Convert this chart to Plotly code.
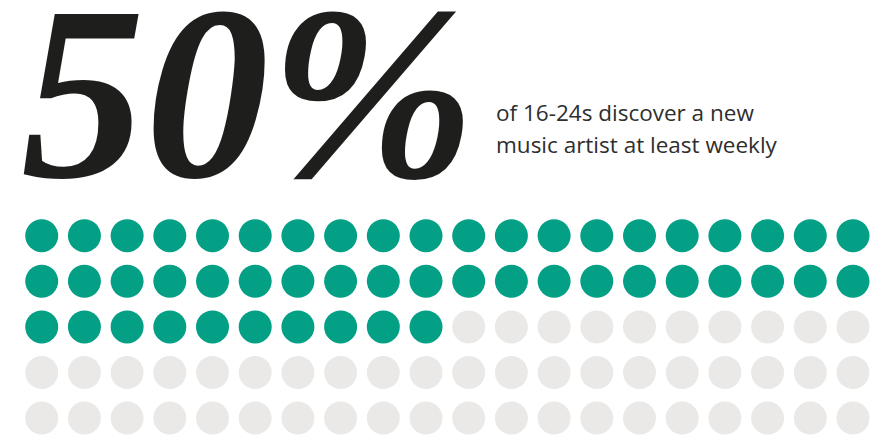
import plotly.graph_objects as go

# Data
categories = ["Discover new artist at least weekly", "Other"]
shares = [50, 50]
colors = ["#03A085", "#EAE9E8"]
n_cols = 20
n_rows = 5
headline = "50%"
subtitle_lines = ["of 16-24s discover a new", "music artist at least weekly"]

W, H = 881, 435

fig = go.Figure()
idx = 0
for cat, share, col in zip(categories, shares, colors):
    xs, ys = [], []
    for _ in range(share):
        r, c = divmod(idx, n_cols)
        xs.append(c)
        ys.append(r)
        idx += 1
    fig.add_trace(go.Scatter(
        x=xs, y=ys, mode="markers", name=cat,
        marker=dict(size=33, color=col, line=dict(width=0)),
        hoverinfo="skip", showlegend=False,
    ))

# headline
fig.add_annotation(
    text=f"<b><i>{headline}</i></b>", xref="paper", yref="paper",
    x=19 / W, y=1 - 233 / H, xanchor="left", yanchor="bottom", showarrow=False,
    font=dict(family="Liberation Serif", size=248, color="#1e1e1c"),
)
for i, line in enumerate(subtitle_lines):
    fig.add_annotation(
        text=line, xref="paper", yref="paper",
        x=494 / W, y=1 - (113 + 31 * i) / H, xanchor="left", yanchor="middle",
        showarrow=False,
        font=dict(family="Open Sans", size=22.5, color="#2e2e2e"),
    )

fig.update_xaxes(range=[-0.977, 19.656], visible=False, fixedrange=True)
fig.update_yaxes(range=[4.371, -5.169], visible=False, fixedrange=True)
fig.update_layout(
    width=W, height=H, margin=dict(l=0, r=0, t=0, b=0),
    paper_bgcolor="white", plot_bgcolor="white",
)
fig.write_html(
    "out.html", config={"displayModeBar": False},
    post_script="document.body.style.margin='0';document.body.style.overflow='hidden';",
)
